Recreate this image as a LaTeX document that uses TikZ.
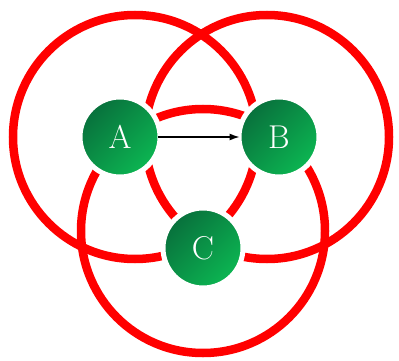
\documentclass[tikz,border=0pt]{standalone}
\usepackage{xcolor}
\usepackage{tikz}
\usetikzlibrary{arrows.meta}

\definecolor{vdark}{RGB}{8,112,60}
\definecolor{vlight}{RGB}{12,182,82}

\begin{document}
\begin{tikzpicture}[
    x=1pt,
    y=-1pt,
    ring/.style={
        draw=red,
        line width=8.5pt
    },
    vertex/.style={
        circle,
        draw=white,
        line width=5pt,
        minimum size=80pt,
        inner sep=0pt,
        top color=vdark,
        bottom color=vlight,
        shading angle=45,
        text=white,
        font=\fontsize{33}{33}\selectfont
    },
    arrow/.style={-{Latex[length=10pt, width=7pt]}, line width=1.2pt}
]

\useasboundingbox (0,0) rectangle (399,361);

\draw[ring] (135,137) circle (122);
\draw[ring] (267,137) circle (122);
\draw[ring] (203,231) circle (122);

\node[vertex] (A) at (120,137) {A};
\node[vertex] (B) at (279,137) {B};
\node[vertex] (C) at (203,248) {C};

\draw[arrow, shorten <=-5pt, shorten >=-3pt] (A) -- (B);

\end{tikzpicture}
\end{document}
